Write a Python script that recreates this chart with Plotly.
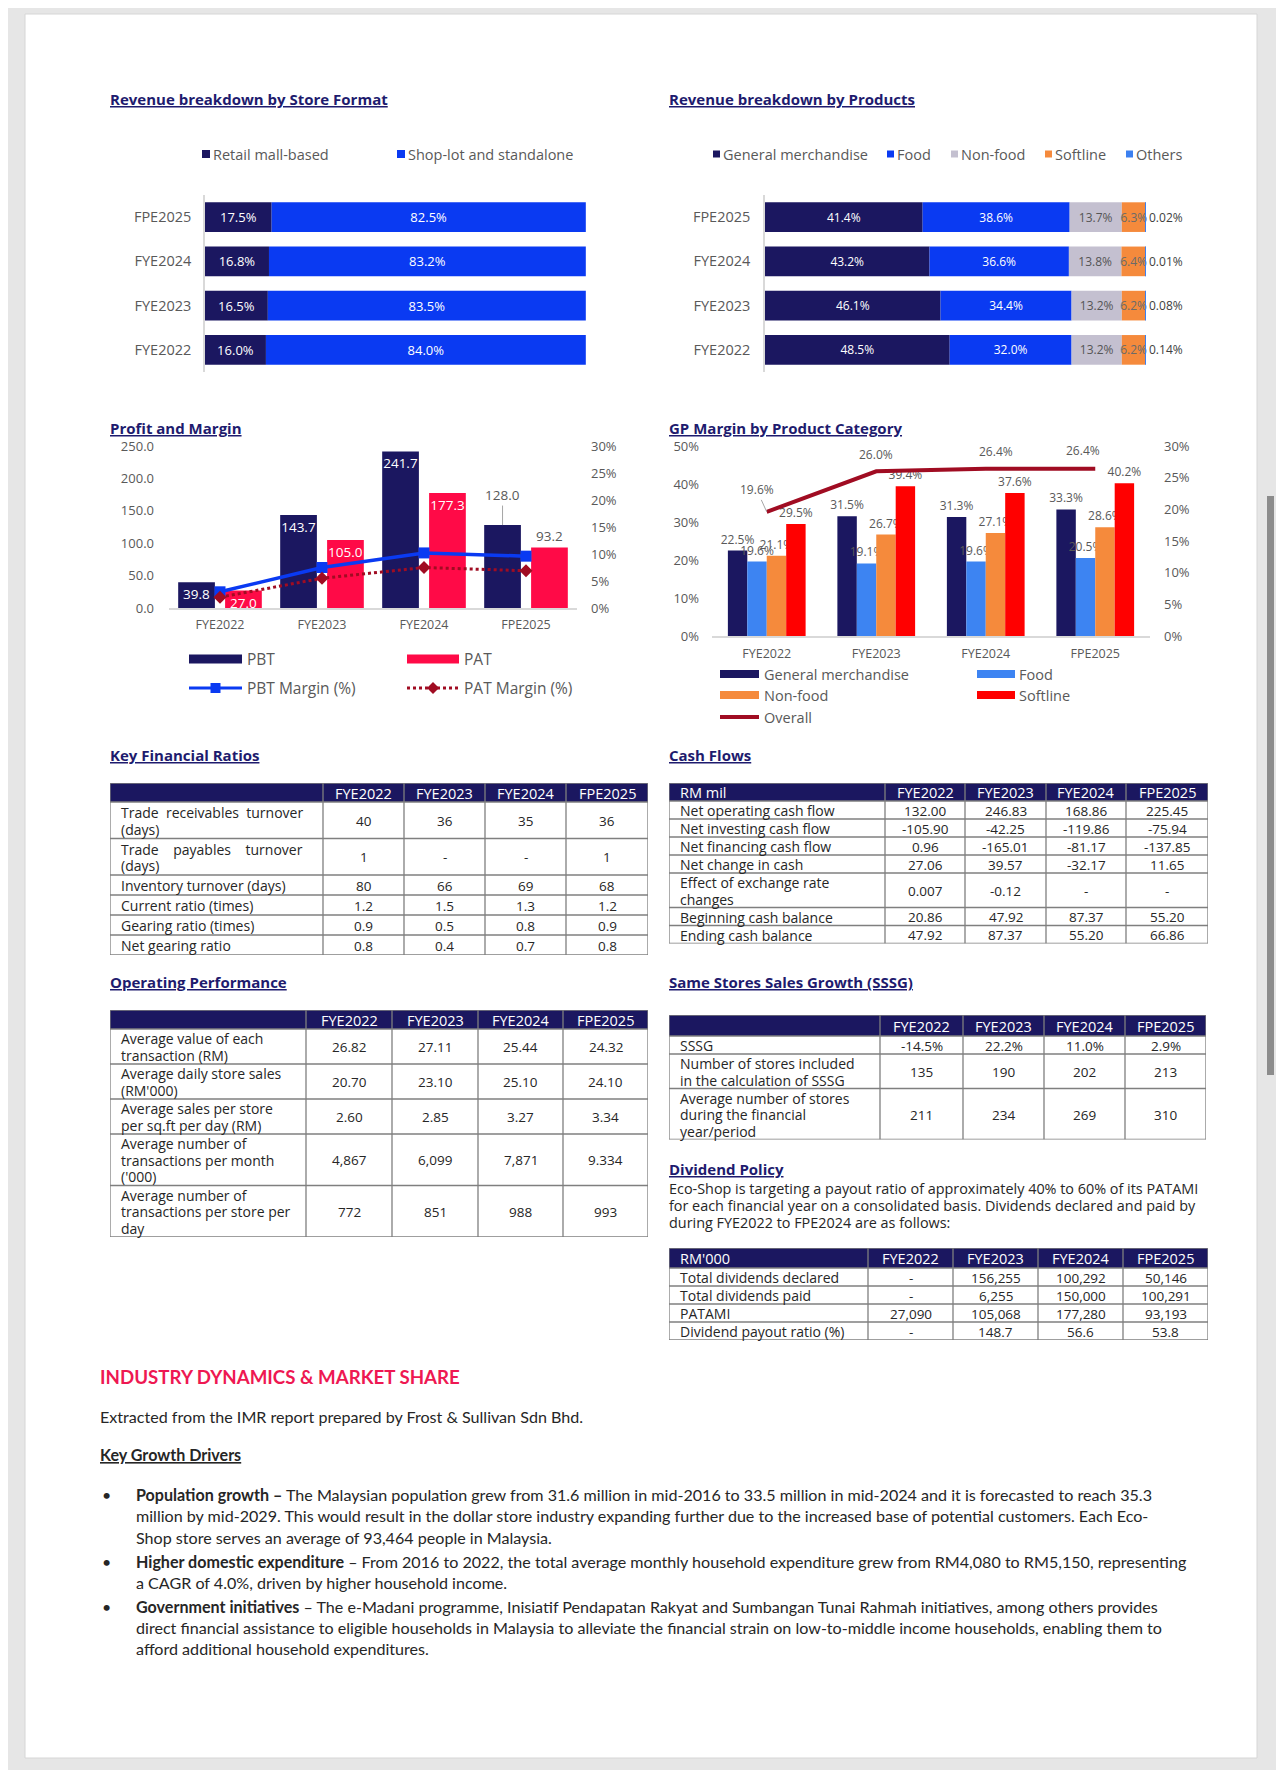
import plotly.graph_objects as go

# ---------------- data ----------------
years = ["FYE2022", "FYE2023", "FYE2024", "FPE2025"]

retail_mall = [16.0, 16.5, 16.8, 17.5]
shop_lot = [84.0, 83.5, 83.2, 82.5]

prod_general = [48.5, 46.1, 43.2, 41.4]
prod_food = [32.0, 34.4, 36.6, 38.6]
prod_nonfood = [13.2, 13.2, 13.8, 13.7]
prod_softline = [6.2, 6.2, 6.4, 6.3]
prod_others = [0.14, 0.08, 0.01, 0.02]

pbt = [39.8, 143.7, 241.7, 128.0]
pat = [27.0, 105.0, 177.3, 93.2]
pbt_margin = [3.0, 7.5, 10.2, 9.6]
pat_margin = [2.0, 5.5, 7.5, 6.9]

gp_general = [22.5, 31.5, 31.3, 33.3]
gp_food = [19.6, 19.1, 19.6, 20.5]
gp_nonfood = [21.1, 26.7, 27.1, 28.6]
gp_softline = [29.5, 39.4, 37.6, 40.2]
gp_overall = [19.6, 26.0, 26.4, 26.4]

NB = "\u00a0"
kfr_labels = [f"Trade{NB}{NB}receivables{NB}{NB}turnover<br>(days)",
              f"Trade{NB}{NB}{NB}{NB}payables{NB}{NB}{NB}{NB}turnover<br>(days)",
              "Inventory turnover (days)", "Current ratio (times)",
              "Gearing ratio (times)", "Net gearing ratio"]
kfr_2022 = ["40", "1", "80", "1.2", "0.9", "0.8"]
kfr_2023 = ["36", "-", "66", "1.5", "0.5", "0.4"]
kfr_2024 = ["35", "-", "69", "1.3", "0.8", "0.7"]
kfr_2025 = ["36", "1", "68", "1.2", "0.9", "0.8"]

cf_labels = ["Net operating cash flow", "Net investing cash flow", "Net financing cash flow",
             "Net change in cash", "Effect of exchange rate<br>changes",
             "Beginning cash balance", "Ending cash balance"]
cf_2022 = ["132.00", "-105.90", "0.96", "27.06", "0.007", "20.86", "47.92"]
cf_2023 = ["246.83", "-42.25", "-165.01", "39.57", "-0.12", "47.92", "87.37"]
cf_2024 = ["168.86", "-119.86", "-81.17", "-32.17", "-", "87.37", "55.20"]
cf_2025 = ["225.45", "-75.94", "-137.85", "11.65", "-", "55.20", "66.86"]

op_labels = ["Average value of each<br>transaction (RM)",
             "Average daily store sales<br>(RM'000)",
             "Average sales per store<br>per sq.ft per day (RM)",
             "Average number of<br>transactions per month<br>('000)",
             "Average number of<br>transactions per store per<br>day"]
op_2022 = ["26.82", "20.70", "2.60", "4,867", "772"]
op_2023 = ["27.11", "23.10", "2.85", "6,099", "851"]
op_2024 = ["25.44", "25.10", "3.27", "7,871", "988"]
op_2025 = ["24.32", "24.10", "3.34", "9.334", "993"]

sssg_labels = ["SSSG", "Number of stores included<br>in the calculation of SSSG",
               "Average number of stores<br>during the financial<br>year/period"]
sssg_2022 = ["-14.5%", "135", "211"]
sssg_2023 = ["22.2%", "190", "234"]
sssg_2024 = ["11.0%", "202", "269"]
sssg_2025 = ["2.9%", "213", "310"]

div_labels = ["Total dividends declared", "Total dividends paid", "PATAMI", "Dividend payout ratio (%)"]
div_2022 = ["-", "-", "27,090", "-"]
div_2023 = ["156,255", "6,255", "105,068", "148.7"]
div_2024 = ["100,292", "150,000", "177,280", "56.6"]
div_2025 = ["50,146", "100,291", "93,193", "53.8"]

# ---------------- styling helpers ----------------
W, H, OFF = 1268, 1762, 8


def fx(x):
    return (x - OFF) / W


def fy(y):
    return 1 - (y - OFF) / H


FONT = "Open Sans, Lato, sans-serif"
BODY_FONT = "Lato, Open Sans, sans-serif"
NAVY = "#1b1760"
BLUE = "#0a3af2"
LAV = "#c4c0d0"
ORANGE = "#f58a3c"
OTHERS_BLUE = "#3c80f0"
LIGHT_BLUE = "#3d84f2"
PINK = "#ff0a47"
RED = "#ff0000"
DARKRED = "#a00c22"
GRAY = "#595959"
TITLE = "#1e1b6e"
TXT = "#262626"
GRID = "#7f7f7f"
LINE_STEP = 16.5

annotations, shapes, extra_axes = [], [], {}


def note(x, y, text, size=13, color=GRAY, family=FONT, xanchor="left", yanchor="middle"):
    annotations.append(dict(x=fx(x), y=fy(y), xref="paper", yref="paper", text=text,
                            showarrow=False, xanchor=xanchor, yanchor=yanchor, align="left",
                            font=dict(size=size, color=color, family=family)))


def rect(x0, x1, yc, h, color, layer="above"):
    shapes.append(dict(type="rect", xref="paper", yref="paper", x0=fx(x0), x1=fx(x1),
                       y0=fy(yc + h / 2), y1=fy(yc - h / 2), fillcolor=color,
                       line=dict(width=0), layer=layer))


def hline(x0, x1, y, color, width, dash="solid"):
    shapes.append(dict(type="line", xref="paper", yref="paper", x0=fx(x0), x1=fx(x1),
                       y0=fy(y), y1=fy(y), line=dict(color=color, width=width, dash=dash)))


fig = go.Figure()

# page background
shapes.append(dict(type="rect", xref="paper", yref="paper", x0=fx(25), x1=fx(1257),
                   y0=fy(1758), y1=fy(14), fillcolor="white",
                   line=dict(color="#d6d6d6", width=1), layer="below"))
shapes.append(dict(type="rect", xref="paper", yref="paper", x0=fx(1267), x1=fx(1274),
                   y0=fy(1075), y1=fy(496), fillcolor="#8c8c8c", line=dict(width=0), layer="below"))

# ---------------- chart 1: store format ----------------
base = [0.0] * len(years)
for name, vals, color, tcol in [("Retail mall-based", retail_mall, NAVY, "white"),
                                ("Shop-lot and standalone", shop_lot, BLUE, "white")]:
    fig.add_trace(go.Bar(y=years, x=vals, base=list(base), orientation="h", name=name,
                         width=0.67, offset=-0.335, marker=dict(color=color, line=dict(width=0)),
                         text=[f"{v:.1f}%" for v in vals], textposition="inside",
                         insidetextanchor="middle", textangle=0, constraintext="none",
                         textfont=dict(size=13, color=tcol, family=FONT),
                         xaxis="x", yaxis="y", hoverinfo="skip"))
    base = [b + v for b, v in zip(base, vals)]

# ---------------- chart 2: products ----------------
base = [0.0] * len(years)
prod_series = [("General merchandise", prod_general, NAVY, "white", "inside"),
               ("Food", prod_food, BLUE, "white", "inside"),
               ("Non-food", prod_nonfood, LAV, "#555555", "inside"),
               ("Softline", prod_softline, ORANGE, "#6a6a6a", "inside"),
               ("Others", prod_others, OTHERS_BLUE, "#404040", "outside")]
for name, vals, color, tcol, pos in prod_series:
    fmt = "{:.2f}%" if pos == "outside" else "{:.1f}%"
    fig.add_trace(go.Bar(y=years, x=vals, base=list(base), orientation="h", name=name,
                         width=0.67, offset=-0.335, marker=dict(color=color, line=dict(width=0)),
                         text=[fmt.format(v) for v in vals], textposition=pos,
                         insidetextanchor="middle", textangle=0, constraintext="none",
                         cliponaxis=False,
                         textfont=dict(size=12, color=tcol, family=FONT),
                         xaxis="x2", yaxis="y2", hoverinfo="skip"))
    base = [b + v for b, v in zip(base, vals)]

# ---------------- chart 3: profit and margin ----------------
PBT_W, PBT_OFF, PAT_OFF = 0.36, -0.41, 0.05
fig.add_trace(go.Bar(x=years, y=pbt, name="PBT", width=PBT_W, offset=PBT_OFF,
                     marker=dict(color=NAVY, line=dict(width=0)),
                     text=[f"{v:.1f}" for v in pbt],
                     textposition=["inside", "inside", "inside", "none"],
                     insidetextanchor="end", textangle=0, constraintext="none",
                     insidetextfont=dict(size=13.5, color="white", family=FONT),
                     xaxis="x3", yaxis="y3", cliponaxis=False, hoverinfo="skip"))
fig.add_trace(go.Bar(x=years, y=pat, name="PAT", width=PBT_W, offset=PAT_OFF,
                     marker=dict(color=PINK, line=dict(width=0)),
                     text=[f"{v:.1f}" for v in pat],
                     textposition=["inside", "inside", "inside", "outside"],
                     insidetextanchor="end", textangle=0, constraintext="none",
                     insidetextfont=dict(size=13.5, color="white", family=FONT),
                     outsidetextfont=dict(size=13.5, color=GRAY, family=FONT),
                     xaxis="x3", yaxis="y3", cliponaxis=False, hoverinfo="skip"))
fig.add_trace(go.Scatter(x=years, y=pbt_margin, name="PBT Margin (%)", mode="lines+markers",
                         line=dict(color=BLUE, width=3.5),
                         marker=dict(symbol="square", size=11, color=BLUE),
                         xaxis="x3", yaxis="y4", hoverinfo="skip"))
fig.add_trace(go.Scatter(x=years, y=pat_margin, name="PAT Margin (%)", mode="lines+markers",
                         line=dict(color=DARKRED, width=3, dash="dot"),
                         marker=dict(symbol="diamond", size=10, color=DARKRED),
                         xaxis="x3", yaxis="y4", hoverinfo="skip"))
last = len(years) - 1
annotations.append(dict(x=last + PBT_OFF + PBT_W / 2, y=pbt[last], xref="x3", yref="y3",
                        text=f"{pbt[last]:.1f}", showarrow=True, arrowhead=0, arrowwidth=1,
                        arrowcolor="#a6a6a6", ax=0, ay=-30,
                        font=dict(size=13.5, color=GRAY, family=FONT)))

# ---------------- chart 4: GP margin ----------------
BW = 0.1775
gp_series = [("General merchandise", gp_general, NAVY), ("Food", gp_food, LIGHT_BLUE),
             ("Non-food", gp_nonfood, ORANGE), ("Softline", gp_softline, RED)]
for i, (name, vals, color) in enumerate(gp_series):
    fig.add_trace(go.Bar(x=years, y=vals, name=name, width=BW, offset=-2 * BW + i * BW,
                         marker=dict(color=color, line=dict(width=0)),
                         text=[f"{v:.1f}%" for v in vals], textposition="outside",
                         textangle=0, constraintext="none", cliponaxis=False,
                         outsidetextfont=dict(size=12, color=GRAY, family=FONT),
                         xaxis="x4", yaxis="y5", hoverinfo="skip"))
fig.add_trace(go.Scatter(x=years, y=gp_overall, name="Overall", mode="lines",
                         line=dict(color=DARKRED, width=4), xaxis="x4", yaxis="y6",
                         hoverinfo="skip"))
overall_offsets = [(-10, -22, True), (0, -17, False), (10, -17, False), (-12, -18, False)]
for i, v in enumerate(gp_overall):
    ax, ay, show_line = overall_offsets[i]
    annotations.append(dict(x=i, y=v, xref="x4", yref="y6", text=f"{v:.1f}%",
                            showarrow=True, arrowhead=0, arrowwidth=1,
                            arrowcolor="#a6a6a6" if show_line else "rgba(0,0,0,0)",
                            ax=ax, ay=ay, font=dict(size=12, color=GRAY, family=FONT)))


# ---------------- tables (drawn on their own hidden axes) ----------------
def draw_table(nx, ny, x0, y0, widths, h_head, h1, header, cols,
               size=13.5, label_size=14, head_size=14.5):
    lines = [str(lab).count("<br>") + 1 for lab in cols[0]]
    row_h = [h1 + LINE_STEP * (k - 1) for k in lines]
    total_w = sum(widths)
    total_h = h_head + sum(row_h)
    xa, ya = f"x{nx}", f"y{ny}"
    extra_axes[f"xaxis{nx}"] = dict(domain=[fx(x0), fx(x0 + total_w)], range=[0, total_w],
                                    anchor=ya, visible=False, fixedrange=True)
    extra_axes[f"yaxis{ny}"] = dict(domain=[fy(y0 + total_h), fy(y0)], range=[total_h, 0],
                                    anchor=xa, visible=False, fixedrange=True)
    col_x = [0]
    for w in widths:
        col_x.append(col_x[-1] + w)
    row_y = [0, h_head]
    for h in row_h:
        row_y.append(row_y[-1] + h)
    shapes.append(dict(type="rect", xref=xa, yref=ya, x0=0, x1=total_w, y0=0, y1=h_head,
                       fillcolor=NAVY, line=dict(width=0), layer="above"))
    for cx in col_x:
        shapes.append(dict(type="line", xref=xa, yref=ya, x0=cx, x1=cx, y0=0, y1=total_h,
                           line=dict(color=GRID, width=1.3), layer="above"))
    for ry in row_y:
        shapes.append(dict(type="line", xref=xa, yref=ya, x0=0, x1=total_w, y0=ry, y1=ry,
                           line=dict(color=GRID, width=1.3), layer="above"))
    for j, htxt in enumerate(header):
        if not htxt:
            continue
        left = j == 0
        annotations.append(dict(x=col_x[j] + 9 if left else (col_x[j] + col_x[j + 1]) / 2,
                                y=h_head / 2 + 0.5, xref=xa, yref=ya, text=htxt, showarrow=False,
                                xanchor="left" if left else "center", yanchor="middle",
                                font=dict(size=head_size, color="white", family=FONT)))
    for j, col in enumerate(cols):
        left = j == 0
        for i, v in enumerate(col):
            centre = (row_y[i + 1] + row_y[i + 2]) / 2 + 0.5
            parts = str(v).split("<br>")
            n = len(parts)
            for k, part in enumerate(parts):
                annotations.append(dict(
                    x=col_x[j] + 9 if left else (col_x[j] + col_x[j + 1]) / 2,
                    y=centre + (k - (n - 1) / 2) * LINE_STEP, xref=xa, yref=ya,
                    text=part, showarrow=False, align="left",
                    xanchor="left" if left else "center", yanchor="middle",
                    font=dict(size=label_size if left else size, color=TXT, family=FONT)))


draw_table(5, 7, 110, 783, [213, 81, 81, 81, 82], 19, 20, [""] + years,
           [kfr_labels, kfr_2022, kfr_2023, kfr_2024, kfr_2025])
draw_table(6, 8, 669, 783, [216, 80, 81, 80, 82], 18, 18, ["RM mil"] + years,
           [cf_labels, cf_2022, cf_2023, cf_2024, cf_2025])
draw_table(7, 9, 110, 1010, [196, 86, 86, 85, 85], 19, 18.5, [""] + years,
           [op_labels, op_2022, op_2023, op_2024, op_2025])
draw_table(8, 10, 669, 1015, [211, 83, 81, 81, 81], 21, 18, [""] + years,
           [sssg_labels, sssg_2022, sssg_2023, sssg_2024, sssg_2025])
draw_table(9, 11, 669, 1248, [199, 85, 85, 85, 85], 20, 18, ["RM'000"] + years,
           [div_labels, div_2022, div_2023, div_2024, div_2025])

# ---------------- titles / texts ----------------
for x, y, t in [(108, 99, "Revenue breakdown by Store Format"),
                (667, 99, "Revenue breakdown by Products"),
                (108, 428, "Profit and Margin"),
                (667, 428, "GP Margin by Product Category"),
                (108, 755, "Key Financial Ratios"),
                (667, 755, "Cash Flows"),
                (108, 982, "Operating Performance"),
                (667, 982, "Same Stores Sales Growth (SSSG)"),
                (667, 1169, "Dividend Policy")]:
    note(x, y, f"<b><u>{t}</u></b>", size=15, color=TITLE)

for i, line in enumerate(["Eco-Shop is targeting a payout ratio of approximately 40% to 60% of its PATAMI",
                          "for each financial year on a consolidated basis. Dividends declared and paid by",
                          "during FYE2022 to FPE2024 are as follows:"]):
    note(667, 1188 + 17 * i, line, size=14.4, color=TXT)

# legends (chart 1, chart 2)
for (sx, tx, name, color) in [(202, 211, "Retail mall-based", NAVY),
                              (397, 406, "Shop-lot and standalone", BLUE)]:
    rect(sx, sx + 8, 154, 8, color)
    note(tx, 154, name, size=14.5)
for (sx, tx, name, color) in [(713, 721, "General merchandise", NAVY),
                              (887, 895, "Food", BLUE),
                              (951, 959, "Non-food", LAV),
                              (1045, 1053, "Softline", ORANGE),
                              (1126, 1134, "Others", OTHERS_BLUE)]:
    rect(sx, sx + 7, 154, 7, color)
    note(tx, 154, name, size=14.5)

# legend chart 3
rect(189, 242, 659, 9, NAVY)
note(245, 659, "PBT", size=15.5)
rect(407, 459, 659, 9, PINK)
note(462, 659, "PAT", size=15.5)
hline(189, 242, 688, BLUE, 3)
rect(210.5, 220.5, 688, 10, BLUE)
note(245, 688, "PBT Margin (%)", size=15.5)
hline(407, 459, 688, DARKRED, 3, dash="dot")
shapes.append(dict(type="path", xref="paper", yref="paper",
                   path=f"M{fx(427)},{fy(688)} L{fx(433)},{fy(682)} L{fx(439)},{fy(688)} L{fx(433)},{fy(694)} Z",
                   fillcolor=DARKRED, line=dict(width=0)))
note(462, 688, "PAT Margin (%)", size=15.5)

# legend chart 4
for (x0, x1, tx, y, name, color) in [(720, 759, 762, 674, "General merchandise", NAVY),
                                     (977, 1015, 1017, 674, "Food", LIGHT_BLUE),
                                     (720, 759, 762, 695, "Non-food", ORANGE),
                                     (977, 1015, 1017, 695, "Softline", RED)]:
    rect(x0, x1, y, 8, color)
    note(tx, y, name, size=14.5)
hline(720, 759, 717, DARKRED, 4)
note(762, 717, "Overall", size=14.5)

# bottom text section
note(98, 1377, "<b>INDUSTRY DYNAMICS &amp; MARKET SHARE</b>", size=18.7, color="#ee1852", family=BODY_FONT)
note(98, 1416, "Extracted from the IMR report prepared by Frost &amp; Sullivan Sdn Bhd.", size=16.1,
     color=TXT, family=BODY_FONT)
note(98, 1454, "<b><u>Key Growth Drivers</u></b>", size=16.1, color=TXT, family=BODY_FONT)
body_lines = [
    (1494, True, "<b>Population growth –</b> The Malaysian population grew from 31.6 million in mid-2016 to 33.5 million in mid-2024 and it is forecasted to reach 35.3"),
    (1515, False, "million by mid-2029. This would result in the dollar store industry expanding further due to the increased base of potential customers. Each Eco-"),
    (1537, False, "Shop store serves an average of 93,464 people in Malaysia."),
    (1561, True, "<b>Higher domestic expenditure</b> – From 2016 to 2022, the total average monthly household expenditure grew from RM4,080 to RM5,150, representing"),
    (1582, False, "a CAGR of 4.0%, driven by higher household income."),
    (1606, True, "<b>Government initiatives</b> – The e-Madani programme, Inisiatif Pendapatan Rakyat and Sumbangan Tunai Rahmah initiatives, among others provides"),
    (1627, False, "direct financial assistance to eligible households in Malaysia to alleviate the financial strain on low-to-middle income households, enabling them to"),
    (1648, False, "afford additional household expenditures."),
]
for y, bullet, line in body_lines:
    if bullet:
        note(100, y, "•", size=16, color=TXT, family=BODY_FONT)
    note(134, y, line, size=16.1, color=TXT, family=BODY_FONT)

# ---------------- axes ----------------
tick_gray = dict(size=13, color=GRAY, family=FONT)
cat_axis = dict(type="category", categoryorder="array", categoryarray=years, range=[-0.5, 3.5],
                showgrid=False, zeroline=False, fixedrange=True)

fig.update_layout(
    width=W, height=H, margin=dict(l=0, r=0, t=0, b=0, autoexpand=False),
    paper_bgcolor="#e6e6e6", plot_bgcolor="rgba(0,0,0,0)",
    showlegend=False, barmode="overlay", font=dict(family=FONT, color=GRAY),
    xaxis=dict(domain=[fx(205), fx(586)], anchor="y", range=[0, 100.05], visible=False),
    yaxis=dict(domain=[fy(372), fy(195)], anchor="x", showline=True, linecolor="#d9d9d9",
               linewidth=1.5, ticks="", ticklabelstandoff=9,
               tickfont=dict(size=14.5, color=GRAY, family=FONT), **cat_axis),
    xaxis2=dict(domain=[fx(765), fx(1146)], anchor="y2", range=[0, 100.05], visible=False),
    yaxis2=dict(domain=[fy(372), fy(195)], anchor="x2", showline=True, linecolor="#d9d9d9",
                linewidth=1.5, ticks="", ticklabelstandoff=10,
                tickfont=dict(size=14.5, color=GRAY, family=FONT), **cat_axis),
    xaxis3=dict(domain=[fx(169), fx(577)], anchor="y3", showline=True, linecolor="#d9d9d9",
                linewidth=1.5, ticks="", ticklabelstandoff=4,
                tickfont=dict(size=12.5, color=GRAY, family=FONT), **cat_axis),
    yaxis3=dict(domain=[fy(608), fy(446)], anchor="x3", range=[0, 250], dtick=50,
                tickformat=".1f", showgrid=False, zeroline=False, showline=False,
                ticklabelstandoff=14, tickfont=tick_gray, fixedrange=True),
    yaxis4=dict(overlaying="y3", side="right", anchor="x3", range=[0, 30], dtick=5,
                ticksuffix="%", showgrid=False, zeroline=False, showline=False,
                ticklabelstandoff=13, tickfont=tick_gray, fixedrange=True),
    xaxis4=dict(domain=[fx(712), fx(1150)], anchor="y5", showline=True, linecolor="#d9d9d9",
                linewidth=1.5, ticks="", ticklabelstandoff=5,
                tickfont=dict(size=12.5, color=GRAY, family=FONT), **cat_axis),
    yaxis5=dict(domain=[fy(636), fy(446)], anchor="x4", range=[0, 50], dtick=10,
                ticksuffix="%", showgrid=False, zeroline=False, showline=False,
                ticklabelstandoff=12, tickfont=tick_gray, fixedrange=True),
    yaxis6=dict(overlaying="y5", side="right", anchor="x4", range=[0, 30], dtick=5,
                ticksuffix="%", showgrid=False, zeroline=False, showline=False,
                ticklabelstandoff=13, tickfont=tick_gray, fixedrange=True),
    annotations=annotations, shapes=shapes,
)
fig.update_layout(**extra_axes)

fig.write_html("out.html")
